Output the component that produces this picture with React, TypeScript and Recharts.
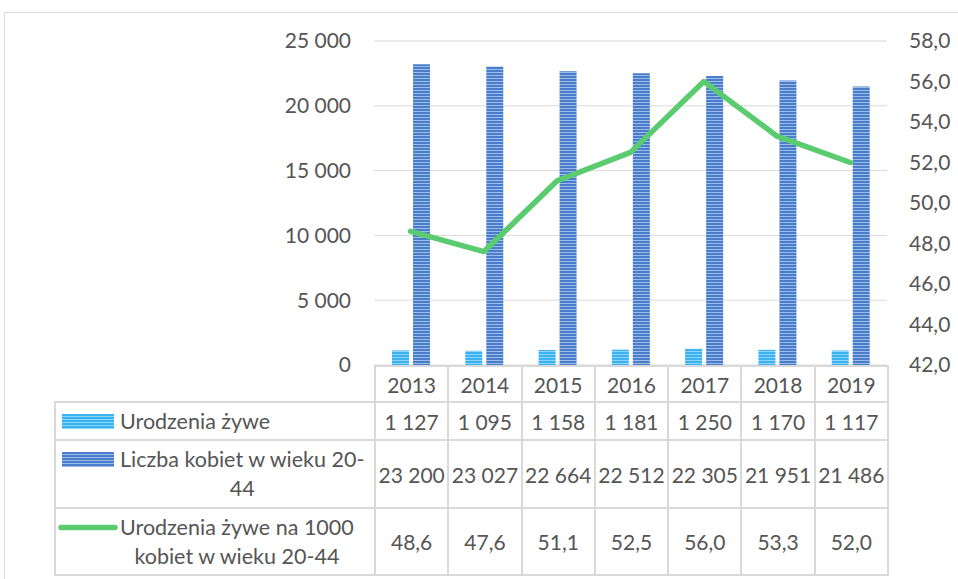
import { Bar, CartesianGrid, ComposedChart, Line, XAxis, YAxis } from "recharts";

const years = ["2013", "2014", "2015", "2016", "2017", "2018", "2019"];
const births = [1127, 1095, 1158, 1181, 1250, 1170, 1117];
const women = [23200, 23027, 22664, 22512, 22305, 21951, 21486];
const birthRate = [48.6, 47.6, 51.1, 52.5, 56.0, 53.3, 52.0];

const leftTicks = [0, 5000, 10000, 15000, 20000, 25000];
const rightTicks = [42, 44, 46, 48, 50, 52, 54, 56, 58];

// legend labels as they wrap in the data table
const birthsLabel = ["Urodzenia żywe"];
const womenLabel = ["Liczba kobiet w wieku 20-", "44"];
const rateLabel = ["Urodzenia żywe na 1000", "kobiet w wieku 20-44"];

const FONT = "Lato, 'Open Sans', sans-serif";
const TEXT = "#555555";
const GRID = "#d9d9d9";
const LIGHT = "#3bb3f3";
const LIGHT_STRIPE = "#8fd4fa";
const DARK = "#4a7dcc";
const DARK_STRIPE = "#9cbbe6";
const GREEN = "#5acb6f";

const fmtInt = (n: number) => String(Math.round(n)).replace(/\B(?=(\d{3})+(?!\d))/g, " ");
const fmtDec = (n: number) => n.toFixed(1).replace(".", ",");

// table geometry
const PLOT_LEFT = 374;
const PLOT_RIGHT = 887;
const TABLE_LEFT = 54;
const ROW_Y = [365, 401, 439, 507, 574];
const COL_W = (PLOT_RIGHT - PLOT_LEFT) / years.length;

function Stripes({ id, base, stripe }: { id: string; base: string; stripe: string }) {
  return (
    <pattern id={id} patternUnits="userSpaceOnUse" width={4} height={3}>
      <rect width={4} height={3} fill={base} />
      <rect width={4} height={1} fill={stripe} />
    </pattern>
  );
}

function Icon({ kind }: { kind: "light" | "dark" | "line" }) {
  return (
    <svg width={64} height={29} style={{ display: "block", flex: "none" }}>
      <defs>
        <Stripes id={`icon-${kind}`} base={kind === "light" ? LIGHT : DARK} stripe={kind === "light" ? LIGHT_STRIPE : DARK_STRIPE} />
      </defs>
      {kind === "line" ? (
        <line x1={5} x2={59} y1={14.5} y2={14.5} stroke={GREEN} strokeWidth={5.5} strokeLinecap="round" />
      ) : (
        <rect x={6} y={7} width={52} height={15} fill={`url(#icon-${kind})`} />
      )}
    </svg>
  );
}

const cellBase: React.CSSProperties = {
  position: "absolute",
  boxSizing: "border-box",
  border: `2px solid ${GRID}`,
  display: "flex",
  alignItems: "center",
  justifyContent: "center",
  fontSize: 21,
  lineHeight: "29px",
  color: TEXT,
  whiteSpace: "nowrap",
};

function DataTable() {
  const rows = [
    { kind: "light" as const, label: birthsLabel, values: births.map(fmtInt) },
    { kind: "dark" as const, label: womenLabel, values: women.map(fmtInt) },
    { kind: "line" as const, label: rateLabel, values: birthRate.map(fmtDec) },
  ];
  const cells: JSX.Element[] = [];
  years.forEach((y, i) => {
    cells.push(
      <div key={`h${i}`} style={{ ...cellBase, left: PLOT_LEFT + i * COL_W, top: ROW_Y[0], width: COL_W + 2, height: ROW_Y[1] - ROW_Y[0] + 2 }}>
        {y}
      </div>
    );
  });
  rows.forEach((r, ri) => {
    const top = ROW_Y[ri + 1];
    const h = ROW_Y[ri + 2] - top + 2;
    cells.push(
      <div key={`l${ri}`} style={{ ...cellBase, left: TABLE_LEFT, top, width: PLOT_LEFT - TABLE_LEFT + 2, height: h, justifyContent: "flex-start", fontSize: 21.5 }}>
        <div style={{ display: "flex", alignItems: "flex-start" }}>
          <Icon kind={r.kind} />
          <div style={{ textAlign: "center" }}>
            {r.label.map((t, k) => (
              <div key={k}>{t}</div>
            ))}
          </div>
        </div>
      </div>
    );
    r.values.forEach((v, i) => {
      cells.push(
        <div key={`c${ri}-${i}`} style={{ ...cellBase, left: PLOT_LEFT + i * COL_W, top, width: COL_W + 2, height: h }}>
          {v}
        </div>
      );
    });
  });
  return <>{cells}</>;
}

export default function App() {
  const data = years.map((year, i) => ({
    year,
    births: births[i],
    women: women[i],
    rate: birthRate[i],
  }));

  const tick = { fill: TEXT, fontSize: 21, fontFamily: FONT };

  return (
    <div style={{ position: "absolute", left: 0, top: 0, width: 958, height: 579, overflow: "hidden", background: "#fff", fontFamily: FONT }}>
      <div style={{ position: "absolute", left: 4, top: 12, width: 1000, height: 700, border: `1px solid ${GRID}` }} />
      <div style={{ position: "absolute", left: 0, top: 0 }}>
        <ComposedChart width={958} height={579} data={data} margin={{ top: 41, right: 0, bottom: 214, left: 0 }} barSize={17} barGap={4}>
          <defs>
            <Stripes id="bar-light" base={LIGHT} stripe={LIGHT_STRIPE} />
            <Stripes id="bar-dark" base={DARK} stripe={DARK_STRIPE} />
          </defs>
          <CartesianGrid vertical={false} stroke={GRID} yAxisId="left" />
          <XAxis dataKey="year" hide />
          <YAxis yAxisId="left" width={PLOT_LEFT} domain={[0, 25000]} ticks={leftTicks} axisLine={false} tickLine={false} tickSize={0} tickMargin={23} tick={tick} tickFormatter={fmtInt} />
          <YAxis yAxisId="right" orientation="right" width={958 - PLOT_RIGHT} domain={[42, 58]} ticks={rightTicks} axisLine={false} tickLine={false} tickSize={0} tickMargin={22} tick={tick} tickFormatter={fmtDec} />
          <Bar yAxisId="left" dataKey="births" fill="url(#bar-light)" isAnimationActive={false} />
          <Bar yAxisId="left" dataKey="women" fill="url(#bar-dark)" isAnimationActive={false} />
          <Line yAxisId="right" dataKey="rate" stroke={GREEN} strokeWidth={5.5} strokeLinecap="round" strokeLinejoin="round" dot={false} activeDot={false} isAnimationActive={false} />
        </ComposedChart>
      </div>
      <DataTable />
    </div>
  );
}
